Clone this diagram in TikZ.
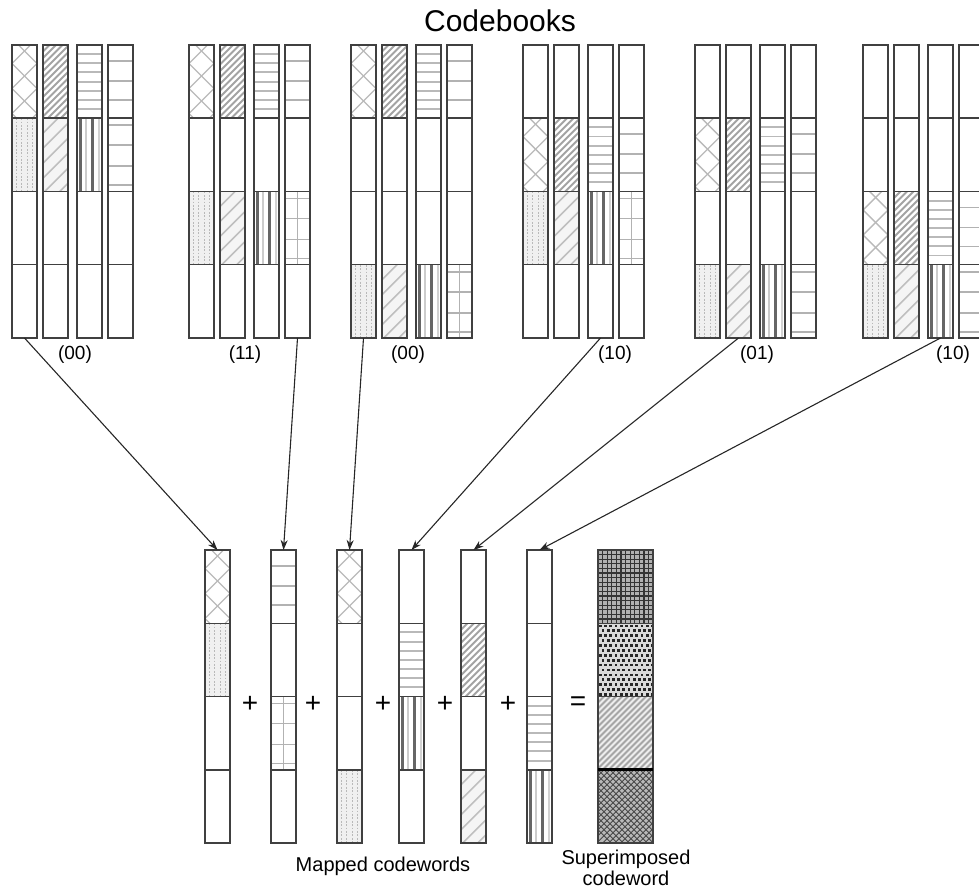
\documentclass[tikz,border=0pt]{standalone}
\usepackage{fontspec}
\setmainfont{Liberation Sans}
\usetikzlibrary{arrows.meta}

\tikzset{
  seg/.style={draw=black!75, line width=1.5pt},
  colbox/.style={draw=none, minimum width=25pt, minimum height=293pt, inner sep=0pt, outer sep=0pt},
  sumbox/.style={draw=none, minimum width=55pt, minimum height=293pt, inner sep=0pt, outer sep=0pt},
  lbl/.style={font=\fontsize{19}{22}\selectfont, inner sep=0pt},
  captext/.style={font=\fontsize{20}{24}\selectfont, inner sep=0pt, align=center},
  op/.style={font=\fontsize{28}{30}\selectfont, inner sep=0pt},
  link/.style={draw=black!85, line width=1.1pt, -{Stealth[length=10pt,width=7pt]}},
}

% ---- fill patterns for one resource cell (25 x 73.25), #1 = left, #2 = top ----
\newcommand\patX[2]{%
  \begin{scope}
    \clip ({#1},{#2}) rectangle ++(25,73.25);
    \foreach \k in {-2,...,3}{
      \draw[gray!55, line width=1.4pt] ({#1+12.5-50},{#2+6+\k*25-50}) -- ++(100,100);
      \draw[gray!55, line width=1.4pt] ({#1+12.5+50},{#2+6+\k*25-50}) -- ++(-100,100);
    }
  \end{scope}}
\newcommand\patDD[2]{%
  \begin{scope}
    \clip ({#1},{#2}) rectangle ++(25,73.25);
    \foreach \k in {0,...,16}{
      \draw[gray!72, line width=1.9pt] ({#1},{#2+\k*6.5}) -- ++(30,-30);
    }
  \end{scope}}
\newcommand\patDS[2]{%
  \begin{scope}
    \clip ({#1},{#2}) rectangle ++(25,73.25);
    \fill[gray!8] ({#1},{#2}) rectangle ++(25,73.25);
    \foreach \k in {0,...,7}{
      \draw[gray!50, line width=1.6pt] ({#1},{#2+\k*15}) -- ++(30,-30);
    }
  \end{scope}}
\newcommand\patH[2]{%
  \foreach \k in {1,...,7}{
    \draw[gray!55, line width=1.9pt] ({#1},{#2+\k*9.15}) -- ++(25,0);
  }}
\newcommand\patHS[2]{%
  \foreach \k in {16,36,55}{
    \draw[gray!60, line width=1.7pt] ({#1},{#2+\k}) -- ++(25,0);
  }}
\newcommand\patDot[2]{%
  \fill[gray!12] ({#1},{#2}) rectangle ++(25,73.25);
  \foreach \i in {4.5,9.5,15.5,20.5}{
    \draw[gray!55, line width=1.8pt, dash pattern=on 1.8pt off 1.6pt] ({#1+\i},{#2}) -- ++(0,73.25);
  }}
\newcommand\patV[2]{%
  \draw[black!60, line width=3.4pt] ({#1+3.5},{#2}) -- ++(0,73.25);
  \draw[gray!40, line width=2.2pt] ({#1+9},{#2}) -- ++(0,73.25);
  \draw[black!60, line width=3.6pt] ({#1+15.5},{#2}) -- ++(0,73.25);
  \draw[gray!35, line width=2pt] ({#1+21.5},{#2}) -- ++(0,73.25);}
\newcommand\patG[3]{% #3 = 1 adds the vertical middle line
  \foreach \k in {7,27,48,67}{
    \draw[gray!60, line width=1.7pt] ({#1},{#2+\k}) -- ++(25,0);
  }
  \ifnum#3=1 \draw[gray!60, line width=1.7pt] ({#1+12.5},{#2}) -- ++(0,73.25);\fi}

% ---- one codebook: name, left x, upper busy cell, lower busy cell, grid flag ----
\newcommand\codebook[5]{%
  \pgfmathsetmacro\ya{45+(#3-1)*73.25}%
  \pgfmathsetmacro\yb{45+(#4-1)*73.25}%
  \patX{#2}{\ya}\patDot{#2}{\yb}%
  \patDD{#2+31}{\ya}\patDS{#2+31}{\yb}%
  \patH{#2+65}{\ya}\patV{#2+65}{\yb}%
  \patHS{#2+96}{\ya}\patG{#2+96}{\yb}{#5}%
  \foreach \c/\off in {1/0,2/31,3/65,4/96}{
    \node[colbox] (#1-\c) at ({#2+\off+12.5},191.5) {};
    \foreach \s in {0,...,3}
      \draw[seg] ({#2+\off},{45+\s*73.25}) rectangle ++(25,73.25);
  }}

% ---- cell outlines of a mapped codeword ----
\newcommand\cells[1]{%
  \foreach \s in {0,...,3}
    \draw[seg] ({#1},{550+\s*73.25}) rectangle ++(25,73.25);}

\begin{document}
\begin{tikzpicture}[x=1pt, y=-1pt]
  \useasboundingbox (0,0) rectangle (979,890);
  \clip (0,0) rectangle (979,890);

  \node[font=\fontsize{30}{34}\selectfont, inner sep=0pt] (title) at (500,21) {Codebooks};

  % codebooks
  \codebook{cbA}{12}{1}{2}{0}
  \codebook{cbB}{189}{1}{3}{1}
  \codebook{cbC}{351}{1}{4}{1}
  \codebook{cbD}{523}{2}{3}{1}
  \codebook{cbE}{695}{2}{4}{0}
  \codebook{cbF}{863}{3}{4}{0}

  % input bit pairs
  \node[lbl] (bA) at (75,355) {(00)};
  \node[lbl] (bB) at (245,355) {(11)};
  \node[lbl] (bC) at (408,355) {(00)};
  \node[lbl] (bD) at (615,355) {(10)};
  \node[lbl] (bE) at (757,355) {(01)};
  \node[lbl] (bF) at (953,355) {(10)};

  % mapped codewords
  \patX{205}{550}\patDot{205}{623.25}
  \patHS{271}{550}\patG{271}{696.5}{1}
  \patX{337}{550}\patDot{337}{769.75}
  \patH{399}{623.25}\patV{399}{696.5}
  \patDD{461}{623.25}\patDS{461}{769.75}
  \patH{527}{696.5}\patV{527}{769.75}
  \foreach \i/\x in {1/205,2/271,3/337,4/399,5/461,6/527}{
    \node[colbox] (m\i) at ({\x+12.5},696.5) {};
    \cells{\x}
  }

  % superimposed codeword, one clipped cell at a time
  \begin{scope}
    \clip (598,550) rectangle ++(55,73.25);
    \fill[gray!62] (598,550) rectangle ++(55,73.25);
    \foreach \k in {0,...,12} \draw[black!80, line width=1.1pt] ({598+\k*4.6},550) -- ++(0,73.25);
    \foreach \k in {0,...,16} \draw[black!80, line width=1.1pt] (598,{550+\k*4.6}) -- ++(55,0);
  \end{scope}
  \begin{scope}
    \clip (598,623.25) rectangle ++(55,73.25);
    \fill[gray!30] (598,623.25) rectangle ++(55,73.25);
    \foreach \i in {0,...,10}
      \foreach \j in {0,...,14}{
        \pgfmathsetmacro\shift{mod(\j,2)*2.6}
        \fill[black!85] ({599+\i*5.2+\shift},{624.5+\j*4.9}) rectangle ++(2.7,2.7);
      }
  \end{scope}
  \begin{scope}
    \clip (598,696.5) rectangle ++(55,73.25);
    \fill[gray!14] (598,696.5) rectangle ++(55,73.25);
    \foreach \k in {0,...,22} \draw[gray!70, line width=1.8pt] (598,{696.5+\k*6}) -- ++(60,-60);
  \end{scope}
  \begin{scope}
    \clip (598,769.75) rectangle ++(55,73.25);
    \fill[gray!55] (598,769.75) rectangle ++(55,73.25);
    \foreach \k in {-10,...,20}{
      \draw[black!72, line width=1pt] ({598+\k*6},769.75) -- ++(74,74);
      \draw[black!72, line width=1pt] ({598+\k*6},769.75) -- ++(-74,74);
    }
  \end{scope}
  \node[sumbox] (sum) at (625.5,696.5) {};
  \foreach \s in {0,...,3}
    \draw[seg] (598,{550+\s*73.25}) rectangle ++(55,73.25);
  \draw[black, line width=2.6pt] (598,769.75) -- ++(55,0);

  % mapping arrows
  \draw[link] (cbA-1.south) -- (m1.north);
  \draw[link] (cbB-4.south) -- (m2.north);
  \draw[link] (cbC-1.south) -- (m3.north);
  \draw[link] (cbD-3.south) -- (m4.north);
  \draw[link] (cbE-2.south) -- (m5.north);
  \draw[link] (cbF-3.south) -- (m6.north);

  % operators
  \node[op] (p1) at (250,704) {+};
  \node[op] (p2) at (313,704) {+};
  \node[op] (p3) at (383,704) {+};
  \node[op] (p4) at (445,704) {+};
  \node[op] (p5) at (508,704) {+};
  \node[op] (eq) at (578,704) {=};

  % captions
  \node[captext] (mc) at (383,866) {Mapped codewords};
  \node[captext] (sc) at (626,868) {Superimposed\\[-3pt]codeword};
\end{tikzpicture}
\end{document}
